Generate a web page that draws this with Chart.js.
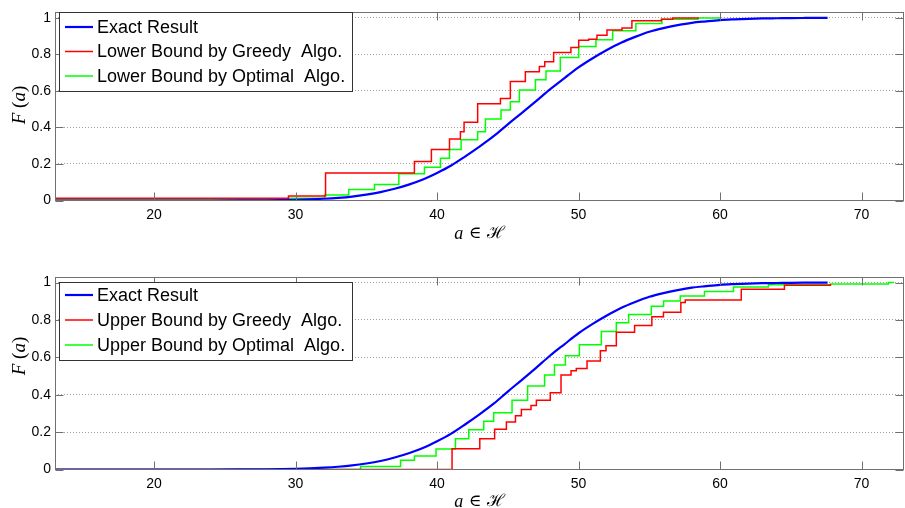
<!DOCTYPE html>
<html>
<head>
<meta charset="utf-8">
<script src="https://cdn.jsdelivr.net/npm/chart.js@4.4.1/dist/chart.umd.min.js"></script>
<style>
  body { margin: 0; background: #fff; }
  .panel { position: absolute; left: 0; width: 905px; height: 254px; }
</style>
</head>
<body>
<div class="panel" style="top:0"><canvas id="topChart"></canvas></div>
<div class="panel" style="top:254px"><canvas id="bottomChart"></canvas></div>
<script>
// ticks
const xTicks = [20, 30, 40, 50, 60, 70];
const yTicks = [0, 0.2, 0.4, 0.6, 0.8, 1];

// exact result
const exactX = [13, 20, 24, 26, 28, 29, 30, 31, 32, 33, 34, 35, 36, 37, 38, 39, 40, 41, 42, 43, 44, 45, 46, 47, 48, 49, 50, 51, 52, 53, 54, 55, 56, 57, 58, 59, 60, 61, 62, 63, 64, 65, 66, 67.6];
const exactY = [0, 0, 0.0001, 0.0004, 0.0013, 0.0023, 0.0038, 0.006, 0.0096, 0.0146, 0.0217, 0.032, 0.0455, 0.064, 0.087, 0.115, 0.151, 0.192, 0.242, 0.295, 0.352, 0.417, 0.48, 0.544, 0.61, 0.67, 0.729, 0.779, 0.824, 0.864, 0.896, 0.924, 0.944, 0.96, 0.973, 0.981, 0.988, 0.992, 0.995, 0.997, 0.998, 0.999, 0.9995, 1];

// lower bounds (step points: x where the step starts, new value)
const lowerGreedyX = [13, 29.5, 32.12, 38.4, 39.6, 40.88, 41.65, 41.91, 42.87, 44.48, 45.18, 46.24, 47.23, 47.61, 48.24, 49.46, 50.01, 50.71, 51.3, 52.01, 53.07, 53.77, 55.85, 56.65, 58.5];
const lowerGreedyY = [0.012, 0.024, 0.151, 0.213, 0.279, 0.337, 0.377, 0.428, 0.53, 0.559, 0.652, 0.705, 0.734, 0.76, 0.81, 0.838, 0.878, 0.883, 0.905, 0.933, 0.944, 0.984, 0.993, 1, 1];
const lowerOptimalX = [13, 29.5, 32.05, 33.76, 35.58, 37.3, 39.11, 40.24, 40.88, 41.7, 42.87, 43.42, 44.52, 45.18, 45.82, 46.95, 47.7, 48.71, 50.01, 51.23, 52.41, 54.05, 55.89, 58.43, 60];
const lowerOptimalY = [0.003, 0.013, 0.03, 0.06, 0.087, 0.146, 0.182, 0.231, 0.279, 0.333, 0.377, 0.446, 0.496, 0.541, 0.605, 0.661, 0.709, 0.783, 0.843, 0.88, 0.929, 0.969, 0.993, 1, 1];

// upper bounds
const upperGreedyX = [13, 41.06, 43.02, 44.07, 44.9, 45.54, 45.96, 46.64, 47.02, 48.0, 48.76, 49.47, 49.84, 50.6, 51.54, 51.94, 52.67, 53.96, 55.18, 56.0, 57.23, 57.54, 61.5, 64.55, 67.8];
const upperGreedyY = [0, 0.111, 0.164, 0.216, 0.254, 0.288, 0.321, 0.343, 0.37, 0.41, 0.505, 0.528, 0.541, 0.58, 0.635, 0.662, 0.734, 0.77, 0.817, 0.842, 0.893, 0.907, 0.965, 0.986, 0.993];
const upperOptimalX = [13, 34.6, 37.42, 38.4, 39.93, 41.3, 42.24, 43.3, 44.0, 45.3, 46.4, 47.6, 48.3, 49.07, 50.06, 51.61, 52.67, 53.54, 55.14, 56.01, 57.19, 58.9, 60.95, 63.42, 67.8, 71.9, 72.3];
const upperOptimalY = [0, 0.016, 0.05, 0.072, 0.11, 0.164, 0.213, 0.258, 0.303, 0.371, 0.447, 0.505, 0.559, 0.608, 0.667, 0.739, 0.785, 0.83, 0.874, 0.902, 0.929, 0.952, 0.977, 0.988, 0.993, 1, 1];

function pts(xs, ys) {
  return xs.map((x, i) => ({ x: x, y: ys[i] }));
}

// texto con partes en cursiva / normal
function drawParts(ctx, parts, cx, cy) {
  let total = 0;
  parts.forEach(p => { ctx.font = p[1]; total += ctx.measureText(p[0]).width; });
  let x = cx - total / 2;
  parts.forEach(p => {
    ctx.font = p[1];
    ctx.fillText(p[0], x, cy);
    x += ctx.measureText(p[0]).width;
  });
}

const framePlugin = {
  id: 'frame',
  afterDraw(chart, args, opts) {
    const { ctx, chartArea: a, scales: { x, y } } = chart;
    ctx.save();
    ctx.strokeStyle = '#707070';
    ctx.lineWidth = 1;
    const L = Math.round(a.left) + 0.5, R = Math.round(a.right) - 0.5;
    const T = Math.round(a.top) + 0.5, B = Math.round(a.bottom) - 0.5;
    ctx.strokeRect(L, T, R - L, B - T);
    // inward tick marks
    ctx.beginPath();
    xTicks.forEach(v => {
      const px = Math.round(x.getPixelForValue(v)) + 0.5;
      ctx.moveTo(px, B); ctx.lineTo(px, B - 8);
      ctx.moveTo(px, T); ctx.lineTo(px, T + 8);
    });
    yTicks.forEach(v => {
      const py = Math.round(y.getPixelForValue(v)) + 0.5;
      ctx.moveTo(L, py); ctx.lineTo(L + 8, py);
      ctx.moveTo(R, py); ctx.lineTo(R - 8, py);
    });
    ctx.stroke();

    // axis titles
    ctx.fillStyle = '#000';
    ctx.textBaseline = 'middle';
    ctx.textAlign = 'left';
    drawParts(ctx, [['a', 'italic 18px "Liberation Serif"'], [' \u2208 ', '17px "DejaVu Serif"'], ['\u210B', '17px "DejaVu Serif"']], (a.left + a.right) / 2, opts.xTitleY);
    ctx.save();
    ctx.translate(20, opts.yTitleY);
    ctx.rotate(-Math.PI / 2);
    drawParts(ctx, [['F', 'italic 19px "Liberation Serif"'], [' (', '19px "Liberation Serif"'], ['a', 'italic 19px "Liberation Serif"'], [')', '19px "Liberation Serif"']], 0, 0);
    ctx.restore();

    // legend box
    const lg = opts.legend;
    ctx.fillStyle = '#fff';
    ctx.fillRect(lg.left, lg.top, lg.width, lg.height);
    ctx.strokeStyle = '#333';
    ctx.strokeRect(lg.left + 0.5, lg.top + 0.5, lg.width, lg.height);
    ctx.font = '18px "Liberation Sans"';
    chart.data.datasets.forEach((ds, i) => {
      const ry = lg.firstRow + i * lg.rowGap;
      ctx.strokeStyle = ds.borderColor;
      ctx.lineWidth = ds.borderWidth;
      ctx.beginPath();
      ctx.moveTo(lg.left + 6, ry); ctx.lineTo(lg.left + 34, ry);
      ctx.stroke();
      ctx.fillStyle = '#000';
      ctx.fillText(ds.label, lg.left + 38, ry + 1);
    });
    ctx.restore();
  }
};

function buildChart(id, labels, series, cfg) {
  const colors = ['#0000ff', '#ff0000', '#00ff00'];
  const widths = [2.2, 1.5, 1.5];
  const datasets = series.map((s, i) => ({
    label: labels[i],
    data: s,
    borderColor: colors[i],
    borderWidth: widths[i],
    pointRadius: 0,
    fill: false,
    stepped: i === 0 ? false : true,
    cubicInterpolationMode: 'monotone',
    order: i === 0 ? 0 : i
  }));
  return new Chart(document.getElementById(id), {
    type: 'line',
    data: { datasets: datasets },
    options: {
      responsive: true,
      maintainAspectRatio: false,
      animation: false,
      layout: { padding: { top: cfg.padTop, right: 1, left: 0, bottom: 0 } },
      plugins: {
        legend: { display: false },
        tooltip: { enabled: false },
        frame: { legend: cfg.legend, xTitleY: cfg.xTitleY, yTitleY: cfg.yTitleY }
      },
      scales: {
        x: {
          type: 'linear', min: 13, max: 73,
          afterBuildTicks: s => { s.ticks = xTicks.map(v => ({ value: v })); },
          afterFit: s => { s.height = cfg.xHeight; },
          grid: { display: false, drawTicks: false },
          border: { display: false },
          ticks: { padding: 6, color: '#000', font: { family: 'Liberation Sans', size: 14 }, maxRotation: 0 }
        },
        y: {
          min: 0, max: 1.03,
          afterBuildTicks: s => { s.ticks = yTicks.map(v => ({ value: v })); },
          afterFit: s => { s.width = 55; },
          grid: { color: '#a0a0a0', lineWidth: 1, drawTicks: false },
          border: { display: false, dash: [1, 2] },
          ticks: {
            padding: 4, color: '#000', font: { family: 'Liberation Sans', size: 14 },
            callback: v => String(+v.toFixed(1))
          }
        }
      }
    },
    plugins: [framePlugin]
  });
}

buildChart('topChart',
  ['Exact Result', 'Lower Bound by Greedy  Algo.', 'Lower Bound by Optimal  Algo.'],
  [pts(exactX, exactY), pts(lowerGreedyX, lowerGreedyY), pts(lowerOptimalX, lowerOptimalY)],
  { padTop: 11, xHeight: 53.5, xTitleY: 234, yTitleY: 105,
    legend: { left: 59, top: 12, width: 293, height: 79, firstRow: 27, rowGap: 24.5 } });

buildChart('bottomChart',
  ['Exact Result', 'Upper Bound by Greedy  Algo.', 'Upper Bound by Optimal  Algo.'],
  [pts(exactX, exactY), pts(upperGreedyX, upperGreedyY), pts(upperOptimalX, upperOptimalY)],
  { padTop: 23, xHeight: 38.5, xTitleY: 248, yTitleY: 102,
    legend: { left: 59, top: 28, width: 293, height: 78, firstRow: 41, rowGap: 25 } });
</script>
</body>
</html>
